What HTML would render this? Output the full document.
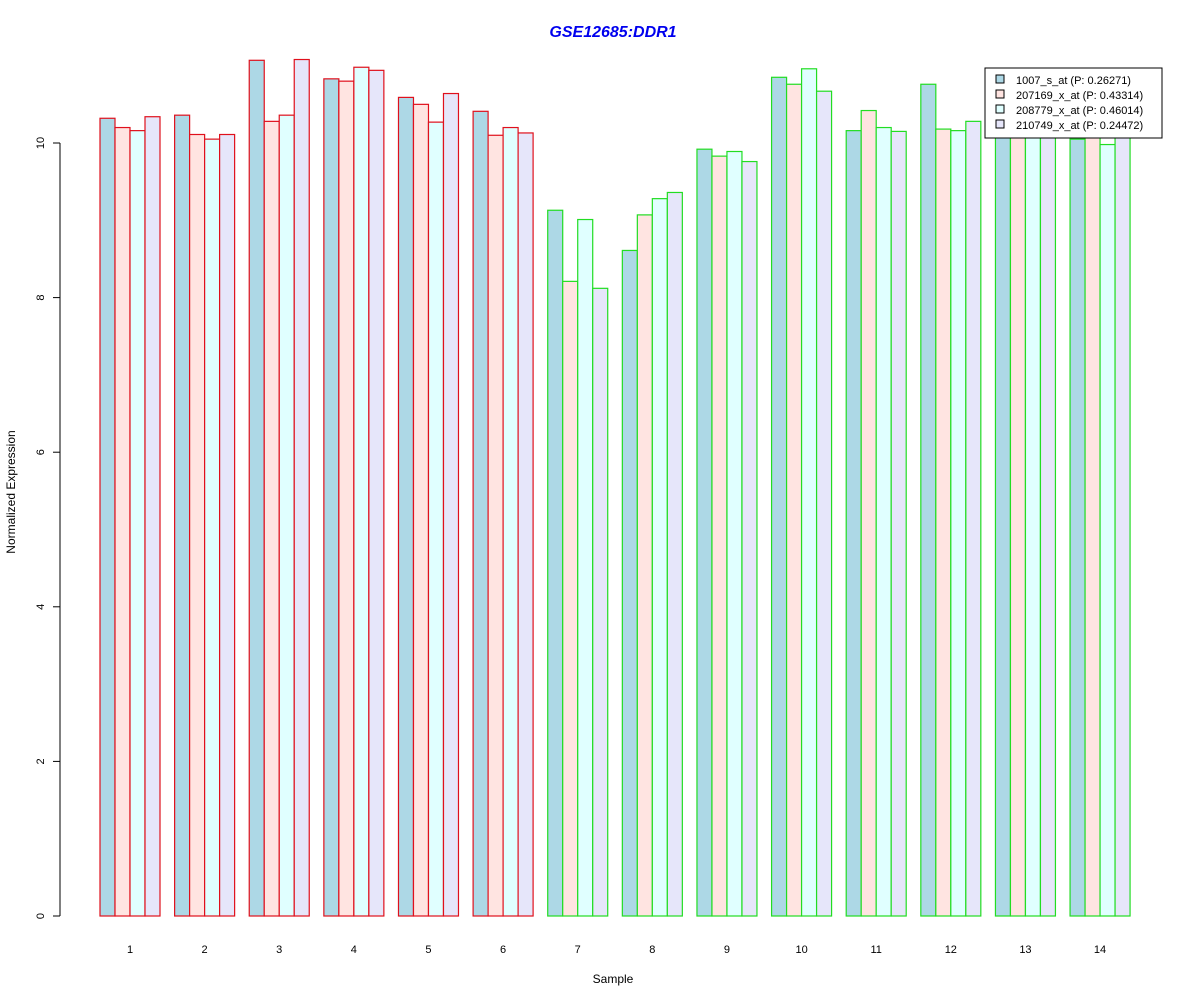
<!DOCTYPE html>
<html><head><meta charset="utf-8"><style>
body{margin:0;background:#fff}
svg text{font-family:"Liberation Sans",Arial,sans-serif}
</style></head><body>
<svg id="chart" width="1200" height="1000" xmlns="http://www.w3.org/2000/svg">
<text x="613" y="37" text-anchor="middle" font-size="16" font-weight="bold" font-style="italic" fill="#0000ee">GSE12685:DDR1</text>
<text x="613" y="983" text-anchor="middle" font-size="12">Sample</text>
<text transform="translate(15,492) rotate(-90)" text-anchor="middle" font-size="12">Normalized Expression</text>
<g id="bars"></g>
<g id="yaxis"></g>
<g id="xlabels"></g>
<g>
<rect x="985" y="68" width="177" height="70" fill="#fff" stroke="#000"/>
<g id="legend-items"></g>
</g>
</svg>
<script>
const categories=["1","2","3","4","5","6","7","8","9","10","11","12","13","14"];
const seriesNames=["1007_s_at (P: 0.26271)","207169_x_at (P: 0.43314)","208779_x_at (P: 0.46014)","210749_x_at (P: 0.24472)"];
const s1=[10.32,10.36,11.07,10.83,10.59,10.41,9.13,8.61,9.92,10.85,10.16,10.76,10.3,10.05];
const s2=[10.20,10.11,10.28,10.80,10.50,10.10,8.21,9.07,9.83,10.76,10.42,10.18,10.25,10.3];
const s3=[10.16,10.05,10.36,10.98,10.27,10.20,9.01,9.28,9.89,10.96,10.20,10.16,10.2,9.98];
const s4=[10.34,10.11,11.08,10.94,10.64,10.13,8.12,9.36,9.76,10.67,10.15,10.28,10.3,10.2];
const groupOf=[1,1,1,1,1,1,2,2,2,2,2,2,2,2];
const yTicks=[0,2,4,6,8,10];
const series=[s1,s2,s3,s4];
const fills=["#ADD8E6","#FFE4E1","#E0FFFF","#E6E6FA"];
const borders={1:"#e0101c",2:"#22dd22"};
const NS="http://www.w3.org/2000/svg";
const y=v=>916-v*77.3;
const gx=i=>100+i*74.62;
const bw=15;
const bars=document.getElementById('bars');
categories.forEach((c,i)=>{
  series.forEach((s,j)=>{
    const r=document.createElementNS(NS,'rect');
    
    
    r.setAttribute('x',gx(i)+j*bw);r.setAttribute('width',bw);
    r.setAttribute('y',y(s[i]));r.setAttribute('height',y(0)-y(s[i]));
    r.setAttribute('fill',fills[j]);r.setAttribute('stroke',borders[groupOf[i]]);r.setAttribute('stroke-width','1.2');
    bars.appendChild(r);
  });
  const t=document.createElementNS(NS,'text');
  
  
  t.setAttribute('x',gx(i)+30);t.setAttribute('y',953);t.setAttribute('text-anchor','middle');t.setAttribute('font-size','11');
  t.textContent=c;document.getElementById('xlabels').appendChild(t);
});
const ya=document.getElementById('yaxis');
const l=document.createElementNS(NS,'line');
l.setAttribute('x1',60);l.setAttribute('x2',60);l.setAttribute('y1',y(0));l.setAttribute('y2',y(10));l.setAttribute('stroke','#000');
ya.appendChild(l);
yTicks.forEach(v=>{
  const tk=document.createElementNS(NS,'line');
  
  
  tk.setAttribute('x1',53);tk.setAttribute('x2',60);tk.setAttribute('y1',y(v));tk.setAttribute('y2',y(v));tk.setAttribute('stroke','#000');
  ya.appendChild(tk);
  const t=document.createElementNS(NS,'text');
  
  
  t.setAttribute('transform','translate(44,'+y(v)+') rotate(-90)');t.setAttribute('text-anchor','middle');t.setAttribute('font-size','11');
  t.textContent=v;ya.appendChild(t);
});
const li=document.getElementById('legend-items');
seriesNames.forEach((n,j)=>{
  const yy=80+j*15;
  const r=document.createElementNS(NS,'rect');
  
  
  r.setAttribute('x',996);r.setAttribute('y',yy-5);r.setAttribute('width',8);r.setAttribute('height',8);
  r.setAttribute('fill',fills[j]);r.setAttribute('stroke','#000');li.appendChild(r);
  const t=document.createElementNS(NS,'text');
  
  
  t.setAttribute('x',1016);t.setAttribute('y',yy+4);t.setAttribute('font-size','11');
  t.textContent=n;li.appendChild(t);
});
</script>
</body></html>
